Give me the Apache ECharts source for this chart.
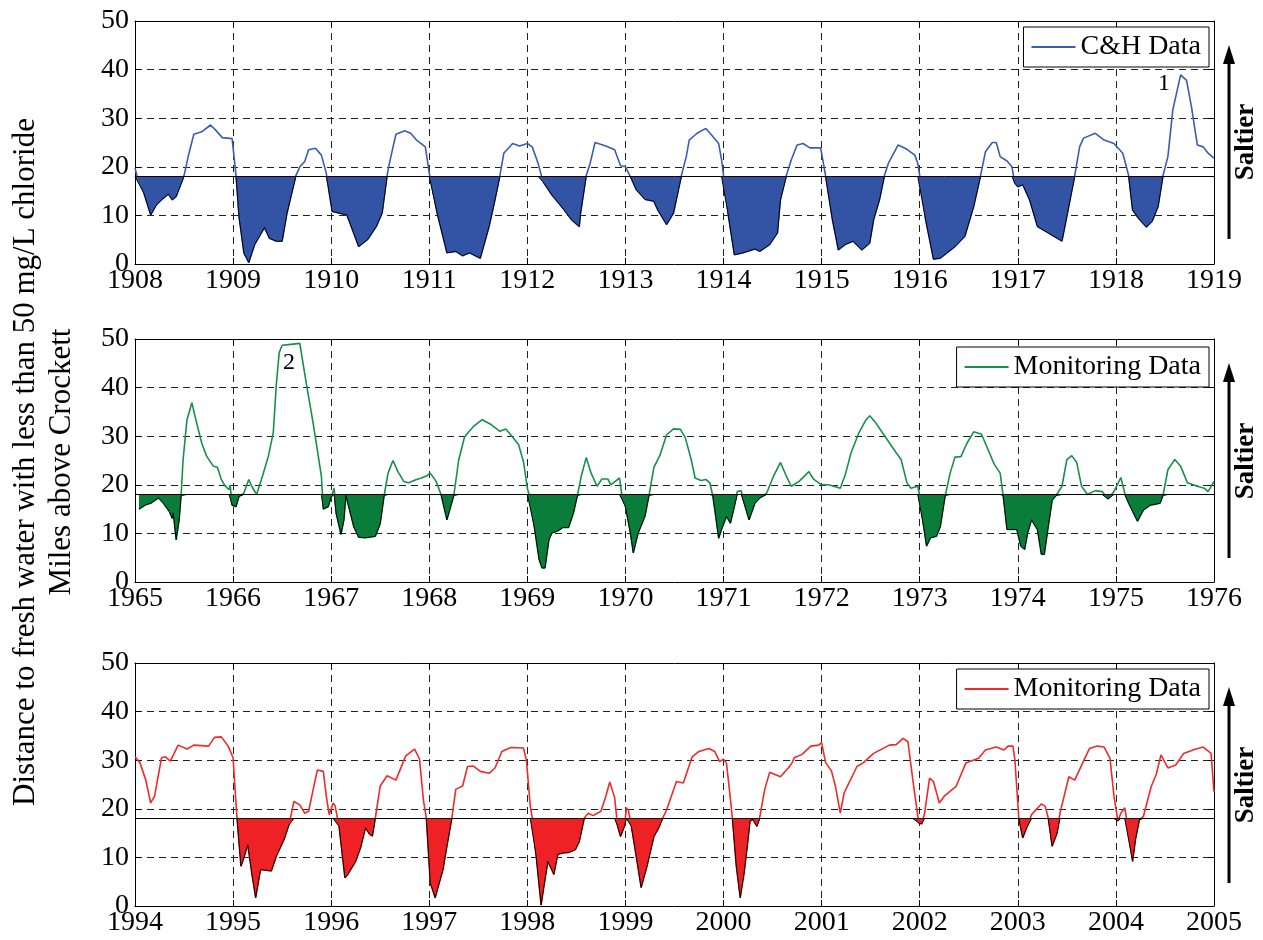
<!DOCTYPE html>
<html>
<head>
<meta charset="utf-8">
<script src="https://cdn.jsdelivr.net/npm/echarts@6/dist/echarts.min.js"></script>
<style>
  html, body { margin: 0; padding: 0; background: #fff; }
  #chart { width: 1263px; height: 940px; }
</style>
</head>
<body>
<div id="chart"></div>
<script>
// distance (miles above Crockett) by decimal year
const chData = [
  [1908.00,19.7],[1908.02,18.2],[1908.09,14.6],[1908.16,10.1],[1908.22,12.2],[1908.27,13.2],[1908.34,14.4],[1908.38,13.2],[1908.42,13.9],[1908.50,18.2],
  [1908.55,22.8],[1908.60,26.7],[1908.68,27.2],[1908.77,28.6],[1908.82,27.6],[1908.89,26.0],[1908.99,25.8],[1909.03,18.2],[1909.06,9.8],[1909.11,2.3],
  [1909.16,0.3],[1909.22,4.0],[1909.32,7.5],[1909.37,5.3],[1909.44,4.7],[1909.50,4.7],[1909.55,10.5],[1909.64,18.2],[1909.68,20.0],[1909.73,21.1],
  [1909.77,23.5],[1909.84,23.8],[1909.90,22.4],[1909.95,18.7],[1909.97,15.9],[1910.01,10.8],[1910.16,10.1],[1910.28,3.6],[1910.37,5.0],[1910.46,7.7],
  [1910.52,10.5],[1910.57,18.2],[1910.59,20.4],[1910.66,26.7],[1910.75,27.4],[1910.81,26.9],[1910.87,25.5],[1910.96,24.1],[1911.00,18.7],[1911.08,10.5],
  [1911.18,2.3],[1911.27,2.6],[1911.34,1.7],[1911.41,2.3],[1911.52,1.2],[1911.61,7.7],[1911.67,13.2],[1911.72,18.2],[1911.76,22.8],[1911.85,24.8],
  [1911.92,24.3],[1912.00,24.8],[1912.05,24.1],[1912.11,20.7],[1912.16,16.9],[1912.25,14.2],[1912.36,11.5],[1912.45,9.1],[1912.53,7.7],[1912.54,10.1],
  [1912.60,18.2],[1912.64,20.7],[1912.69,25.0],[1912.80,24.3],[1912.89,23.5],[1912.95,20.2],[1913.00,20.0],[1913.05,18.0],[1913.11,15.3],[1913.20,13.3],
  [1913.29,12.9],[1913.33,11.1],[1913.42,8.1],[1913.49,10.5],[1913.57,18.2],[1913.62,22.1],[1913.65,25.5],[1913.73,26.9],[1913.82,27.9],[1913.88,26.5],
  [1913.95,24.8],[1913.98,21.4],[1914.00,18.2],[1914.05,9.8],[1914.11,1.9],[1914.20,2.3],[1914.32,3.1],[1914.37,2.6],[1914.47,4.0],[1914.55,6.4],
  [1914.58,13.2],[1914.64,18.2],[1914.69,21.4],[1914.75,24.5],[1914.81,24.8],[1914.88,23.9],[1914.99,23.9],[1915.04,18.2],[1915.11,9.1],[1915.17,2.9],
  [1915.24,4.0],[1915.32,4.7],[1915.41,2.9],[1915.49,4.3],[1915.53,9.1],[1915.59,13.2],[1915.64,18.2],[1915.68,20.7],[1915.78,24.5],[1915.87,23.6],
  [1915.95,22.4],[1915.98,20.7],[1916.00,18.2],[1916.06,9.1],[1916.14,1.0],[1916.21,1.2],[1916.36,3.6],[1916.46,5.7],[1916.55,11.8],[1916.62,18.2],
  [1916.67,23.1],[1916.74,25.0],[1916.78,25.0],[1916.82,22.1],[1916.89,21.2],[1916.94,20.0],[1916.97,16.6],[1917.00,15.9],[1917.05,16.3],[1917.12,13.2],
  [1917.20,7.7],[1917.31,6.4],[1917.45,4.7],[1917.50,9.8],[1917.58,18.2],[1917.63,24.1],[1917.67,25.9],[1917.79,26.9],[1917.88,25.5],[1917.98,24.8],
  [1918.07,22.8],[1918.13,18.2],[1918.17,11.1],[1918.23,9.4],[1918.31,7.6],[1918.37,8.8],[1918.43,11.8],[1918.48,18.2],[1918.53,22.1],[1918.58,31.7],
  [1918.66,38.9],[1918.72,37.8],[1918.77,32.4],[1918.83,24.5],[1918.89,24.1],[1918.94,22.8],[1919.00,21.8]
];

const mon1965Data = [
  [1965.04,15.0],[1965.11,15.9],[1965.16,16.2],[1965.24,17.3],[1965.29,16.2],[1965.35,14.5],[1965.38,13.1],[1965.39,14.2],[1965.42,8.7],[1965.45,12.8],
  [1965.47,17.8],[1965.49,25.1],[1965.53,33.4],[1965.58,36.9],[1965.62,33.4],[1965.68,28.6],[1965.73,25.9],[1965.80,23.8],[1965.84,23.6],[1965.88,21.1],
  [1965.92,19.7],[1965.96,19.0],[1965.97,20.0],[1965.99,15.8],[1966.03,15.5],[1966.06,17.6],[1966.11,18.3],[1966.16,21.1],[1966.19,19.7],[1966.24,18.0],
  [1966.30,21.8],[1966.36,25.9],[1966.41,30.8],[1966.44,40.4],[1966.47,47.2],[1966.50,48.7],[1966.59,48.9],[1966.68,49.1],[1966.70,48.9],[1966.75,40.4],
  [1966.81,33.4],[1966.84,29.6],[1966.90,21.8],[1966.92,15.0],[1966.97,15.5],[1967.00,17.5],[1967.03,19.3],[1967.05,14.2],[1967.10,9.8],[1967.13,12.8],
  [1967.15,17.8],[1967.23,11.4],[1967.28,9.2],[1967.35,9.1],[1967.45,9.4],[1967.50,12.0],[1967.54,17.8],[1967.58,22.4],[1967.63,25.0],[1967.68,22.7],
  [1967.74,20.7],[1967.79,20.4],[1967.87,21.1],[1967.92,21.4],[1967.97,21.8],[1968.01,22.4],[1968.07,20.7],[1968.12,18.0],[1968.18,12.8],[1968.21,14.9],
  [1968.25,17.8],[1968.30,25.1],[1968.36,29.9],[1968.45,32.0],[1968.54,33.4],[1968.63,32.4],[1968.72,31.0],[1968.78,31.5],[1968.83,30.3],[1968.91,28.3],
  [1968.96,24.8],[1969.00,19.3],[1969.02,17.8],[1969.07,11.4],[1969.12,4.6],[1969.15,2.9],[1969.18,2.9],[1969.22,8.7],[1969.25,10.1],[1969.31,10.5],
  [1969.36,11.2],[1969.42,11.2],[1969.47,14.2],[1969.51,17.8],[1969.55,21.8],[1969.60,25.6],[1969.65,22.4],[1969.71,19.7],[1969.76,21.2],[1969.82,21.2],
  [1969.85,20.0],[1969.94,21.4],[1969.96,18.3],[1970.00,15.5],[1970.05,10.1],[1970.08,6.0],[1970.13,10.1],[1970.20,13.6],[1970.24,17.8],[1970.29,23.6],
  [1970.35,26.0],[1970.42,30.3],[1970.49,31.5],[1970.56,31.4],[1970.61,29.7],[1970.67,25.2],[1970.71,21.4],[1970.77,20.9],[1970.82,21.1],[1970.86,20.4],
  [1970.89,17.8],[1970.92,13.5],[1970.95,9.0],[1970.99,11.4],[1971.03,13.5],[1971.07,12.1],[1971.11,15.5],[1971.14,18.6],[1971.18,18.8],[1971.21,16.2],
  [1971.26,12.8],[1971.32,16.2],[1971.37,17.3],[1971.44,18.3],[1971.51,21.8],[1971.58,24.6],[1971.64,21.8],[1971.69,19.7],[1971.77,20.7],[1971.87,22.7],
  [1971.92,21.1],[1972.00,20.0],[1972.07,20.0],[1972.19,19.3],[1972.24,22.0],[1972.30,26.6],[1972.38,30.7],[1972.45,33.3],[1972.49,34.2],[1972.55,32.8],
  [1972.62,30.7],[1972.76,26.6],[1972.81,25.2],[1972.87,20.4],[1972.91,19.3],[1972.98,19.7],[1973.00,17.8],[1973.04,11.4],[1973.07,7.4],[1973.11,9.1],
  [1973.17,9.4],[1973.21,11.4],[1973.26,17.8],[1973.31,22.4],[1973.36,25.7],[1973.42,25.8],[1973.48,28.5],[1973.55,30.9],[1973.63,30.4],[1973.71,26.6],
  [1973.76,24.2],[1973.82,22.4],[1973.85,17.8],[1973.89,10.8],[1973.99,10.8],[1974.03,7.4],[1974.07,6.7],[1974.10,10.1],[1974.14,12.8],[1974.20,10.8],
  [1974.24,5.7],[1974.27,5.7],[1974.31,11.4],[1974.35,16.8],[1974.39,17.8],[1974.45,19.7],[1974.50,25.2],[1974.55,26.0],[1974.60,24.6],[1974.65,19.7],
  [1974.71,18.0],[1974.79,18.8],[1974.86,18.6],[1974.92,17.1],[1974.98,18.6],[1975.05,21.5],[1975.09,18.3],[1975.13,16.2],[1975.22,12.5],[1975.28,14.8],
  [1975.35,15.8],[1975.45,16.2],[1975.48,17.8],[1975.53,23.1],[1975.60,25.2],[1975.66,23.8],[1975.73,20.4],[1975.83,19.7],[1975.90,19.3],[1975.94,18.6],
  [1976.00,20.7]
];

const mon1994Data = [
  [1994.00,30.7],[1994.05,29.5],[1994.11,25.9],[1994.16,21.2],[1994.20,22.6],[1994.27,30.5],[1994.31,30.7],[1994.36,29.8],[1994.44,33.1],[1994.53,32.3],
  [1994.60,33.1],[1994.75,32.9],[1994.81,34.7],[1994.88,34.8],[1994.95,32.9],[1995.00,30.5],[1995.02,24.0],[1995.04,18.1],[1995.08,8.2],[1995.11,9.9],
  [1995.15,12.6],[1995.19,6.8],[1995.23,1.7],[1995.28,7.5],[1995.30,7.9],[1995.39,7.2],[1995.44,10.2],[1995.52,13.7],[1995.57,16.7],[1995.62,21.5],
  [1995.68,20.8],[1995.73,19.1],[1995.77,19.5],[1995.83,25.3],[1995.86,28.0],[1995.92,27.7],[1995.95,22.6],[1995.98,18.8],[1996.02,21.2],[1996.04,20.6],
  [1996.08,16.4],[1996.14,5.8],[1996.17,6.5],[1996.25,9.2],[1996.30,12.0],[1996.35,16.1],[1996.39,14.8],[1996.42,14.4],[1996.45,18.1],[1996.50,24.7],
  [1996.57,26.8],[1996.66,25.9],[1996.76,30.9],[1996.85,32.3],[1996.90,30.3],[1996.94,21.9],[1996.97,18.1],[1997.01,4.8],[1997.06,1.7],[1997.08,2.0],
  [1997.14,7.5],[1997.18,12.3],[1997.23,18.1],[1997.27,24.0],[1997.30,24.3],[1997.34,24.7],[1997.39,28.7],[1997.45,28.8],[1997.52,27.7],[1997.61,27.3],
  [1997.67,28.4],[1997.74,31.8],[1997.83,32.6],[1997.96,32.5],[1997.99,30.1],[1998.03,20.5],[1998.05,18.1],[1998.09,10.2],[1998.14,0.2],[1998.18,5.5],
  [1998.21,9.2],[1998.23,8.9],[1998.27,6.5],[1998.31,10.6],[1998.36,10.9],[1998.42,11.0],[1998.49,11.6],[1998.53,13.3],[1998.58,18.1],[1998.62,19.1],
  [1998.67,18.6],[1998.75,19.5],[1998.80,22.6],[1998.84,25.5],[1998.89,22.3],[1998.92,16.4],[1998.95,14.3],[1998.99,16.4],[1999.01,20.2],[1999.03,19.7],
  [1999.06,16.4],[1999.11,10.2],[1999.16,3.8],[1999.22,8.2],[1999.29,14.3],[1999.34,16.1],[1999.38,18.1],[1999.42,19.8],[1999.52,25.6],[1999.59,25.3],
  [1999.68,30.7],[1999.75,31.8],[1999.85,32.4],[1999.91,31.8],[1999.96,29.7],[2000.00,30.2],[2000.03,29.4],[2000.06,23.9],[2000.09,18.1],[2000.13,8.2],
  [2000.17,1.7],[2000.21,6.8],[2000.25,13.7],[2000.27,17.5],[2000.30,17.8],[2000.34,16.4],[2000.37,18.4],[2000.42,24.0],[2000.47,27.5],[2000.58,26.6],
  [2000.66,28.4],[2000.70,29.5],[2000.72,30.5],[2000.80,31.2],[2000.89,32.9],[2000.97,33.1],[2001.00,33.6],[2001.04,29.5],[2001.10,27.8],[2001.14,24.7],
  [2001.19,19.1],[2001.23,23.3],[2001.31,26.6],[2001.36,28.7],[2001.42,29.4],[2001.53,31.4],[2001.69,33.1],[2001.76,33.2],[2001.83,34.5],[2001.88,33.8],
  [2001.93,25.9],[2001.99,17.1],[2002.02,16.9],[2002.05,19.1],[2002.10,26.3],[2002.14,25.6],[2002.20,21.2],[2002.25,22.6],[2002.37,24.6],[2002.47,29.4],
  [2002.60,30.4],[2002.67,32.1],[2002.78,32.7],[2002.86,32.1],[2002.90,32.9],[2002.95,32.9],[2002.97,30.1],[2003.01,18.1],[2003.05,14.0],[2003.09,16.1],
  [2003.14,18.8],[2003.24,21.0],[2003.28,20.5],[2003.31,18.1],[2003.35,12.3],[2003.40,15.0],[2003.43,19.1],[2003.52,26.6],[2003.58,25.9],[2003.66,29.4],
  [2003.73,32.4],[2003.81,32.9],[2003.88,32.7],[2003.94,30.4],[2003.98,22.6],[2004.02,17.5],[2004.05,19.1],[2004.09,20.2],[2004.11,17.8],[2004.17,9.2],
  [2004.20,13.7],[2004.24,17.8],[2004.28,18.4],[2004.36,24.6],[2004.41,27.0],[2004.46,31.1],[2004.53,28.4],[2004.61,29.0],[2004.69,31.4],[2004.80,32.2],
  [2004.89,32.7],[2004.97,31.4],[2005.00,23.5]
];

const yearRanges = [[1908, 1919], [1965, 1976], [1994, 2005]];
const threshold = 18;
const seriesNames = ['C&H Data', 'Monitoring Data', 'Monitoring Data (1994)'];
const legendLabels = ['C&H Data', 'Monitoring Data', 'Monitoring Data'];
const lineColors = ['#3b5cb3', '#17904a', '#ee2a2a'];
const fillColors = ['#3353a4', '#0b7d3b', '#ee2224'];
const notes = [
  { panel: 0, coord: [1918.49, 37.2], text: '1' },
  { panel: 1, coord: [1966.57, 45.1], text: '2' }
];

const FONT = '"Liberation Serif", "Times New Roman", serif';
const gridTops = [21, 339, 663];
const legendTops = [27, 347, 669];
const panels = [chData, mon1965Data, mon1994Data];

const chart = echarts.init(document.getElementById('chart'));

const dash = { color: '#222', width: 1, type: [7, 5] };
const grid = [];
const xAxis = [];
const yAxis = [];
const series = [];
const legend = [];
const graphic = [];

panels.forEach((data, i) => {
  grid.push({ left: 135, right: 49, top: gridTops[i], height: 243 });

  xAxis.push({
    gridIndex: i, type: 'value', min: yearRanges[i][0], max: yearRanges[i][1], interval: 1,
    position: 'bottom',
    axisLine: { show: true, onZero: false, lineStyle: { color: '#000', width: 1 } },
    axisTick: { show: true, inside: true, length: 6, lineStyle: { color: '#000' } },
    axisLabel: { fontSize: 28, fontFamily: FONT, color: '#000', margin: 3, formatter: v => String(v) },
    splitLine: { show: true, lineStyle: dash }
  });
  yAxis.push({
    gridIndex: i, type: 'value', min: 0, max: 50, interval: 10,
    position: 'left',
    axisLine: { show: true, onZero: false, lineStyle: { color: '#000', width: 1 } },
    axisTick: { show: true, inside: true, length: 6, lineStyle: { color: '#000' } },
    axisLabel: { fontSize: 28, fontFamily: FONT, color: '#000', margin: 6 },
    splitLine: { show: true, lineStyle: dash }
  });

  // coloured data line
  const note = notes.filter(n => n.panel === i);
  series.push({
    name: seriesNames[i], type: 'line', xAxisIndex: i, yAxisIndex: i,
    data: data, symbol: 'none', z: 2,
    lineStyle: { color: lineColors[i], width: 1.6 },
    itemStyle: { color: lineColors[i] },
    markPoint: note.length ? {
      symbol: 'rect', symbolSize: 1, silent: true,
      itemStyle: { color: 'rgba(0,0,0,0)' },
      label: { show: true, position: 'inside', color: '#000', fontSize: 24, fontFamily: FONT, formatter: p => p.name },
      data: note.map(n => ({ name: n.text, coord: n.coord }))
    } : undefined
  });

  // filled part below the threshold
  series.push({
    name: 'below' + i, type: 'line', xAxisIndex: i, yAxisIndex: i,
    data: data.map(p => [p[0], Math.min(p[1], threshold)]),
    symbol: 'none', z: 3, silent: true,
    lineStyle: { color: '#000', width: 1 },
    areaStyle: { color: fillColors[i], opacity: 1, origin: threshold },
    markLine: {
      silent: true, symbol: 'none', label: { show: false },
      lineStyle: { color: '#000', width: 1, type: 'solid' },
      data: [{ yAxis: threshold }]
    }
  });

  legend.push({
    data: [seriesNames[i]],
    formatter: () => legendLabels[i],
    right: 54, top: legendTops[i],
    orient: 'horizontal',
    backgroundColor: '#fff',
    borderColor: '#000', borderWidth: 1, borderRadius: 0,
    padding: [6, 8, 6, 8],
    icon: 'rect', itemWidth: 44, itemHeight: 2, itemGap: 4,
    textStyle: { fontSize: 28, fontFamily: FONT, color: '#000' },
    selectedMode: false
  });
});

// top and right frame axes with inner ticks
panels.forEach((data, i) => {
  xAxis.push({
    gridIndex: i, type: 'value', min: yearRanges[i][0], max: yearRanges[i][1], interval: 1,
    position: 'top',
    axisLine: { show: true, onZero: false, lineStyle: { color: '#000', width: 1 } },
    axisTick: { show: true, inside: true, length: 6, lineStyle: { color: '#000' } },
    axisLabel: { show: false }, splitLine: { show: false }
  });
  yAxis.push({
    gridIndex: i, type: 'value', min: 0, max: 50, interval: 10,
    position: 'right',
    axisLine: { show: true, onZero: false, lineStyle: { color: '#000', width: 1 } },
    axisTick: { show: true, inside: true, length: 6, lineStyle: { color: '#000' } },
    axisLabel: { show: false }, splitLine: { show: false }
  });
});

// "Saltier" arrows
const arrowSpans = [[45, 239], [363, 558], [687, 883]];
const saltierY = [142, 461, 785];
arrowSpans.forEach((s, i) => {
  graphic.push({
    type: 'line', shape: { x1: 1229, y1: s[1], x2: 1229, y2: s[0] + 14 },
    style: { stroke: '#000', lineWidth: 3 }
  });
  graphic.push({
    type: 'polygon', shape: { points: [[1229, s[0]], [1223, s[0] + 19], [1235, s[0] + 19]] },
    style: { fill: '#000' }
  });
  graphic.push({
    type: 'text', x: 1246, y: saltierY[i], rotation: Math.PI / 2,
    style: { text: 'Saltier', font: 'bold 27px ' + FONT, fill: '#000', align: 'center', verticalAlign: 'middle' }
  });
});

// shared y title
graphic.push({
  type: 'text', x: 26, y: 462, rotation: Math.PI / 2,
  style: { text: 'Distance to fresh water with less than 50 mg/L chloride', font: '31px ' + FONT, fill: '#000', align: 'center', verticalAlign: 'middle' }
});
graphic.push({
  type: 'text', x: 62, y: 462, rotation: Math.PI / 2,
  style: { text: 'Miles above Crockett', font: '31px ' + FONT, fill: '#000', align: 'center', verticalAlign: 'middle' }
});

chart.setOption({
  animation: false,
  backgroundColor: '#fff',
  textStyle: { fontFamily: FONT },
  grid, xAxis, yAxis, series, legend, graphic
});

window.addEventListener('resize', () => chart.resize());
</script>
</body>
</html>
